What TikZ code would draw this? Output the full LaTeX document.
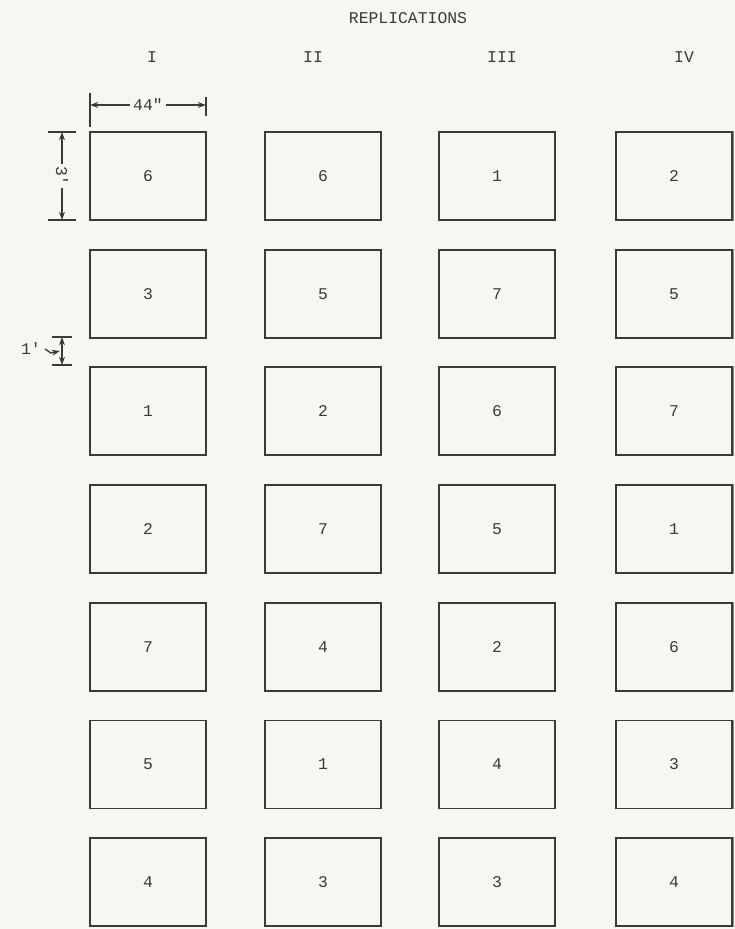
\documentclass[tikz,border=0pt]{standalone}
\usepackage{fontspec}
\setmonofont{Liberation Mono}
\usetikzlibrary{positioning,arrows.meta}
\definecolor{paper}{RGB}{247,246,240}
\definecolor{ink}{RGB}{58,58,58}
\definecolor{scanedge}{RGB}{232,112,48}
\begin{document}
\begin{tikzpicture}[>={Stealth[length=7pt,width=5pt]},x=0.03cm,y=-0.03cm,
  every node/.style={text=ink,font=\fontsize{14}{16}\selectfont\ttfamily},
  plot/.style={draw=ink,line width=1.6pt,minimum width=3.5cm,minimum height=2.64cm,inner sep=0pt},
  dim/.style={draw=ink,line width=1.1pt}]
\fill[paper] (0,0) rectangle (735,929);
\useasboundingbox (0,0) rectangle (735,929);
\node (title) at (408,18) {REPLICATIONS};
\node (repI) at (152,57) {I};
\node (repII) at (313,57) {II};
\node (repIII) at (502,57) {III};
\node (repIV) at (684,57) {IV};
% plots, one column per replication
\foreach \tr [count=\r] in {6,3,1,2,7,5,4}
  \node[plot] (I-\r) at (148,{176+117.7*(\r-1)}) {\tr};
\foreach \tr [count=\r] in {6,5,2,7,4,1,3}
  \node[plot] (II-\r) at (323,{176+117.7*(\r-1)}) {\tr};
\foreach \tr [count=\r] in {1,7,6,5,2,4,3}
  \node[plot] (III-\r) at (497,{176+117.7*(\r-1)}) {\tr};
\foreach \tr [count=\r] in {2,5,7,1,6,3,4}{
  \node[plot] (IV-\r) at (674,{176+117.7*(\r-1)}) {\tr};
  \draw[scanedge,line width=1.2pt] (IV-\r.north east) -- (IV-\r.south east);
}
% plot width
\coordinate (wl) at (90,105);
\coordinate (wr) at (206,105);
\draw[dim] (90,93) -- (90,127);
\draw[dim] (206,97) -- (206,116);
\draw[dim,<->] (wl) -- node[fill=paper,inner sep=3pt]{44"} (wr);
% plot length
\coordinate (lt) at (62,132);
\coordinate (lb) at (62,220);
\draw[dim] (48,132) -- (76,132);
\draw[dim] (48,220) -- (76,220);
\draw[dim,<->] (lt) -- node[fill=paper,rotate=-90,inner sep=2pt]{3'} (lb);
% alley between plots
\coordinate (at) at (62,337);
\coordinate (ab) at (62,365);
\draw[dim] (52,337) -- (72,337);
\draw[dim] (52,365) -- (72,365);
\draw[dim,<->] (at) -- (ab);
\node (alley) at (31,349) {1'};
\draw[dim,->] (alley.east) -- ++(6,4) -- (60,351);
\end{tikzpicture}
\end{document}
